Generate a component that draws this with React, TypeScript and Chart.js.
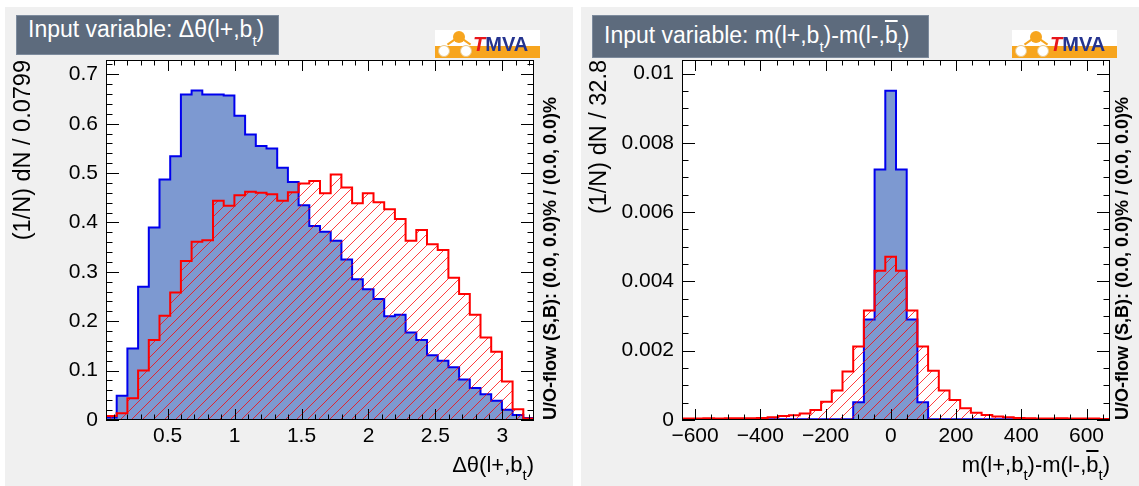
import React, { useEffect, useRef } from "react";
import { Chart, registerables } from "chart.js";

Chart.register(...registerables);

const FONT = '"Liberation Sans", Arial, Helvetica, sans-serif';

// ---------------- Δθ(l+,b_t) ----------------
const dthetaMin = 0.04;
const dthetaBinWidth = 0.0799;
const dthetaYMax = 0.729;
const dthetaSignal = [
  0.005, 0.049, 0.145, 0.27, 0.39, 0.487, 0.534, 0.659, 0.667, 0.659,
  0.659, 0.657, 0.616, 0.578, 0.555, 0.55, 0.511, 0.482, 0.435, 0.393,
  0.381, 0.363, 0.325, 0.285, 0.265, 0.245, 0.21, 0.213, 0.177, 0.162,
  0.131, 0.12, 0.107, 0.082, 0.065, 0.052, 0.039, 0.021, 0.01, 0.004,
];
const dthetaBackground = [
  0.008, 0.0135, 0.044, 0.1, 0.162, 0.211, 0.258, 0.322, 0.361, 0.364,
  0.444, 0.434, 0.455, 0.462, 0.46, 0.457, 0.444, 0.461, 0.479, 0.484,
  0.459, 0.497, 0.471, 0.439, 0.459, 0.441, 0.427, 0.407, 0.363, 0.385,
  0.356, 0.344, 0.288, 0.255, 0.213, 0.167, 0.138, 0.078, 0.022, 0.003,
];
const dthetaXTicks = [0.5, 1, 1.5, 2, 2.5, 3];
const dthetaXLabels = ["0.5", "1", "1.5", "2", "2.5", "3"];
const dthetaXMinor = 0.1;
const dthetaYTicks = [0, 0.1, 0.2, 0.3, 0.4, 0.5, 0.6, 0.7];
const dthetaYLabels = ["0", "0.1", "0.2", "0.3", "0.4", "0.5", "0.6", "0.7"];
const dthetaYMinor = 0.02;

// ---------------- m(l+,b_t)-m(l-,b̄_t) ----------------
const massMin = -640;
const massBinWidth = 32.8;
const massYMax = 0.01039;
const massSignal = [
  0, 0, 0, 0, 0, 0, 0, 0, 0.00002, 0.00002,
  0.00002, 0.00002, 0.00002, 0.00002, 0.00002, 0.00002, 0.00051, 0.0029, 0.00723, 0.0095,
  0.00723, 0.0029, 0.00051, 0.00002, 0.00002, 0.00002, 0.00002, 0.00002, 0.00002, 0.00002,
  0.00002, 0, 0, 0, 0, 0, 0, 0, 0, 0,
];
const massBackground = [
  0.00004, 0.00004, 0.00005, 0.00004, 0.00005, 0.00005, 0.00005, 0.00006, 0.00008, 0.000115,
  0.000135, 0.00019, 0.00029, 0.00053, 0.00085, 0.0014, 0.00212, 0.00316, 0.00431, 0.00471,
  0.00431, 0.00316, 0.00212, 0.00142, 0.00085, 0.00058, 0.00034, 0.00021, 0.000145, 0.0001,
  0.00008, 0.00006, 0.00005, 0.00004, 0.00004, 0.00005, 0.00004, 0.00004, 0.00004, 0.00003,
];
const massXTicks = [-600, -400, -200, 0, 200, 400, 600];
const massXLabels = ["\u2212600", "\u2212400", "\u2212200", "0", "200", "400", "600"];
const massXMinor = 50;
const massYTicks = [0, 0.002, 0.004, 0.006, 0.008, 0.01];
const massYLabels = ["0", "0.002", "0.004", "0.006", "0.008", "0.01"];
const massYMinor = 0.0005;

type Tick = { value: number; label: string; major: boolean };

function buildTicks(lo: number, hi: number, minorStep: number, majors: number[], labels: string[]): Tick[] {
  const out: Tick[] = [];
  const first = Math.ceil(lo / minorStep - 1e-9);
  const last = Math.floor(hi / minorStep + 1e-9);
  for (let k = first; k <= last; k++) {
    const v = k * minorStep;
    const j = majors.findIndex((m) => Math.abs(m - v) < minorStep * 1e-3);
    out.push({ value: j >= 0 ? majors[j] : v, label: j >= 0 ? labels[j] : "", major: j >= 0 });
  }
  return out;
}

function histPoints(min: number, width: number, vals: number[]) {
  const pts = [{ x: min, y: 0 }];
  vals.forEach((v, i) => pts.push({ x: min + i * width, y: v }));
  pts.push({ x: min + vals.length * width, y: vals[vals.length - 1] });
  pts.push({ x: min + vals.length * width, y: 0 });
  return pts;
}

function hatchPattern(): CanvasPattern | string {
  const s = 11;
  const c = document.createElement("canvas");
  c.width = s;
  c.height = s;
  const g = c.getContext("2d");
  if (!g) return "rgba(255,0,0,0.2)";
  g.strokeStyle = "rgba(255,0,0,0.75)";
  g.lineWidth = 1;
  g.beginPath();
  g.moveTo(0, s);
  g.lineTo(s, 0);
  g.moveTo(-s, s);
  g.lineTo(s, -s);
  g.moveTo(0, 2 * s);
  g.lineTo(2 * s, 0);
  g.stroke();
  const p = g.createPattern(c, "repeat");
  return p || "rgba(255,0,0,0.2)";
}

function framePlugin(xt: Tick[], yt: Tick[]) {
  return {
    id: "rootFrame",
    beforeDraw(chart: any) {
      const { ctx, chartArea: a } = chart;
      ctx.save();
      ctx.fillStyle = "#ffffff";
      ctx.fillRect(a.left, a.top, a.right - a.left, a.bottom - a.top);
      ctx.restore();
    },
    afterDatasetsDraw(chart: any) {
      const { ctx, chartArea: a, scales } = chart;
      ctx.save();
      ctx.strokeStyle = "#000";
      ctx.lineWidth = 1;
      ctx.beginPath();
      xt.forEach((t) => {
        const px = Math.round(scales.x.getPixelForValue(t.value)) + 0.5;
        const len = t.major ? 11 : 5.5;
        ctx.moveTo(px, a.bottom);
        ctx.lineTo(px, a.bottom - len);
        ctx.moveTo(px, a.top);
        ctx.lineTo(px, a.top + len);
      });
      yt.forEach((t) => {
        const py = Math.round(scales.y.getPixelForValue(t.value)) + 0.5;
        const len = t.major ? 13 : 6.5;
        ctx.moveTo(a.left, py);
        ctx.lineTo(a.left + len, py);
        ctx.moveTo(a.right, py);
        ctx.lineTo(a.right - len, py);
      });
      ctx.stroke();
      ctx.strokeRect(a.left + 0.5, a.top + 0.5, a.right - a.left - 1, a.bottom - a.top - 1);
      ctx.restore();
    },
  };
}

type Spec = {
  xMin: number;
  binWidth: number;
  yMax: number;
  signal: number[];
  background: number[];
  xTicks: Tick[];
  yTicks: Tick[];
  yTitle: string;
  padRight: number;
};

function makeConfig(p: Spec): any {
  const xMax = p.xMin + p.signal.length * p.binWidth;
  return {
    type: "line",
    data: {
      datasets: [
        {
          label: "Background",
          data: histPoints(p.xMin, p.binWidth, p.background),
          stepped: true,
          borderColor: "#ff0000",
          borderWidth: 2,
          backgroundColor: hatchPattern(),
          fill: "origin",
          pointRadius: 0,
          tension: 0,
        },
        {
          label: "Signal",
          data: histPoints(p.xMin, p.binWidth, p.signal),
          stepped: true,
          borderColor: "#0000ee",
          borderWidth: 2,
          backgroundColor: "#7d99d1",
          fill: "origin",
          pointRadius: 0,
          tension: 0,
        },
      ],
    },
    options: {
      animation: false,
      responsive: false,
      devicePixelRatio: 1,
      events: [],
      layout: { padding: { left: 0, top: 53, right: p.padRight, bottom: 0 } },
      plugins: { legend: { display: false }, tooltip: { enabled: false }, title: { display: false } },
      scales: {
        x: {
          type: "linear",
          min: p.xMin,
          max: xMax,
          afterBuildTicks: (s: any) => {
            s.ticks = p.xTicks.map((t) => ({ value: t.value }));
          },
          afterFit: (s: any) => {
            s.height = 66;
          },
          ticks: {
            autoSkip: false,
            maxRotation: 0,
            minRotation: 0,
            padding: 4,
            color: "#000",
            font: { family: FONT, size: 21 },
            callback: (_v: any, i: number) => (p.xTicks[i] ? p.xTicks[i].label : ""),
          },
          grid: { display: false, drawTicks: false },
          border: { display: false },
        },
        y: {
          type: "linear",
          min: 0,
          max: p.yMax,
          afterBuildTicks: (s: any) => {
            s.ticks = p.yTicks.map((t) => ({ value: t.value }));
          },
          afterFit: (s: any) => {
            s.width = 101;
          },
          ticks: {
            autoSkip: false,
            padding: 8,
            color: "#000",
            font: { family: FONT, size: 21 },
            callback: (_v: any, i: number) => (p.yTicks[i] ? p.yTicks[i].label : ""),
          },
          grid: { display: false, drawTicks: false },
          border: { display: false },
          title: {
            display: true,
            text: p.yTitle,
            align: "end",
            color: "#000",
            font: { family: FONT, size: 23.5 },
            padding: { top: 4, bottom: 0 },
          },
        },
      },
    },
    plugins: [framePlugin(p.xTicks, p.yTicks)],
  };
}

const Sub = ({ children, size, shift }: any) => (
  <span style={{ fontSize: size, position: "relative", top: shift }}>{children}</span>
);

const BarB = () => <span style={{ textDecoration: "overline" }}>b</span>;

function Logo({ left }: { left: number }) {
  return (
    <div style={{ position: "absolute", left, top: 23, width: 105, height: 28, background: "#ffffff", overflow: "hidden" }}>
      <div style={{ position: "absolute", left: 0, top: 16, width: 105, height: 12, background: "#f7a51e" }} />
      <div style={{ position: "absolute", left: 11, top: 9, width: 16, height: 2, background: "#f7a51e", transform: "rotate(-35deg)" }} />
      <div style={{ position: "absolute", left: 21, top: 9, width: 16, height: 2, background: "#f7a51e", transform: "rotate(35deg)" }} />
      <div style={{ position: "absolute", left: 18, top: 1, width: 12, height: 12, borderRadius: 6, background: "#f7a51e" }} />
      <div style={{ position: "absolute", left: 3, top: 15, width: 12, height: 12, borderRadius: 6, background: "#ffffff", border: "1px solid #e9c88a", boxSizing: "border-box" }} />
      <div style={{ position: "absolute", left: 25, top: 15, width: 12, height: 12, borderRadius: 6, background: "#ffffff", border: "1px solid #e9c88a", boxSizing: "border-box" }} />
      <div style={{ position: "absolute", left: 38, top: 3, fontFamily: FONT, fontWeight: "bold", fontSize: 20, lineHeight: "22px", whiteSpace: "nowrap" }}>
        <span style={{ color: "#e8161b", fontStyle: "italic" }}>T</span>
        <span style={{ color: "#24338f" }}>MVA</span>
      </div>
    </div>
  );
}

function TitleBox({ width, height, baseline, children }: any) {
  return (
    <>
      <div
        style={{
          position: "absolute",
          left: 11,
          top: 8,
          width,
          height,
          background: "#5d6b7d",
          border: "1px solid #7d8b9d",
          boxSizing: "border-box",
        }}
      />
      <div
        style={{
          position: "absolute",
          left: 23,
          top: baseline - 19.5,
          color: "#ffffff",
          fontFamily: FONT,
          fontSize: 23,
          lineHeight: "23px",
          whiteSpace: "nowrap",
        }}
      >
        {children}
      </div>
    </>
  );
}

function XTitle({ right, children }: any) {
  return (
    <div
      style={{
        position: "absolute",
        right,
        top: 466 - 18.6,
        color: "#000",
        fontFamily: FONT,
        fontSize: 22,
        lineHeight: "22px",
        whiteSpace: "nowrap",
      }}
    >
      {children}
    </div>
  );
}

function UOFlow({ cx }: { cx: number }) {
  const lh = 18;
  return (
    <div
      style={{
        position: "absolute",
        left: cx - lh / 2,
        top: 413,
        transformOrigin: "0 0",
        transform: "rotate(-90deg)",
        fontFamily: FONT,
        fontWeight: "bold",
        fontSize: 18,
        lineHeight: `${lh}px`,
        whiteSpace: "nowrap",
        color: "#000",
      }}
    >
      U/O-flow (S,B): (0.0, 0.0)% / (0.0, 0.0)%
    </div>
  );
}

export default function App() {
  const leftRef = useRef<HTMLCanvasElement>(null);
  const rightRef = useRef<HTMLCanvasElement>(null);

  useEffect(() => {
    Chart.defaults.font.family = FONT;
    const leftSpec: Spec = {
      xMin: dthetaMin,
      binWidth: dthetaBinWidth,
      yMax: dthetaYMax,
      signal: dthetaSignal,
      background: dthetaBackground,
      xTicks: buildTicks(dthetaMin, dthetaMin + dthetaSignal.length * dthetaBinWidth, dthetaXMinor, dthetaXTicks, dthetaXLabels),
      yTicks: buildTicks(0, dthetaYMax, dthetaYMinor, dthetaYTicks, dthetaYLabels),
      yTitle: "(1/N) dN / 0.0799",
      padRight: 568 - 529,
    };
    const rightSpec: Spec = {
      xMin: massMin,
      binWidth: massBinWidth,
      yMax: massYMax,
      signal: massSignal,
      background: massBackground,
      xTicks: buildTicks(massMin, massMin + massSignal.length * massBinWidth, massXMinor, massXTicks, massXLabels),
      yTicks: buildTicks(0, massYMax, massYMinor, massYTicks, massYLabels),
      yTitle: "(1/N) dN / 32.8",
      padRight: 558 - 529,
    };
    const c1 = new Chart(leftRef.current as HTMLCanvasElement, makeConfig(leftSpec));
    const c2 = new Chart(rightRef.current as HTMLCanvasElement, makeConfig(rightSpec));
    return () => {
      c1.destroy();
      c2.destroy();
    };
  }, []);

  const panel = (left: number, width: number): React.CSSProperties => ({
    position: "absolute",
    left,
    top: 7,
    width,
    height: 479,
    background: "#f0f0f0",
    overflow: "hidden",
  });

  return (
    <div style={{ position: "absolute", left: 0, top: 0, width: 1139, height: 486, background: "#ffffff", overflow: "hidden", fontFamily: FONT }}>
      <div style={panel(5, 568)}>
        <canvas ref={leftRef} width={568} height={479} style={{ position: "absolute", left: 0, top: 0 }} />
        <TitleBox width={263} height={40} baseline={30}>
          Input variable: Δθ(l+,b<Sub size={15} shift={9}>t</Sub>)
        </TitleBox>
        <Logo left={430} />
        <XTitle right={568 - 529}>
          Δθ(l+,b<Sub size={15} shift={8}>t</Sub>)
        </XTitle>
        <UOFlow cx={545} />
      </div>
      <div style={panel(581, 558)}>
        <canvas ref={rightRef} width={558} height={479} style={{ position: "absolute", left: 0, top: 0 }} />
        <TitleBox width={337} height={43} baseline={36}>
          Input variable: m(l+,b<Sub size={15} shift={9}>t</Sub>)-m(l-,<BarB />
          <Sub size={15} shift={9}>t</Sub>)
        </TitleBox>
        <Logo left={431} />
        <XTitle right={558 - 529}>
          m(l+,b<Sub size={15} shift={8}>t</Sub>)-m(l-,<BarB />
          <Sub size={15} shift={8}>t</Sub>)
        </XTitle>
        <UOFlow cx={541} />
      </div>
    </div>
  );
}
